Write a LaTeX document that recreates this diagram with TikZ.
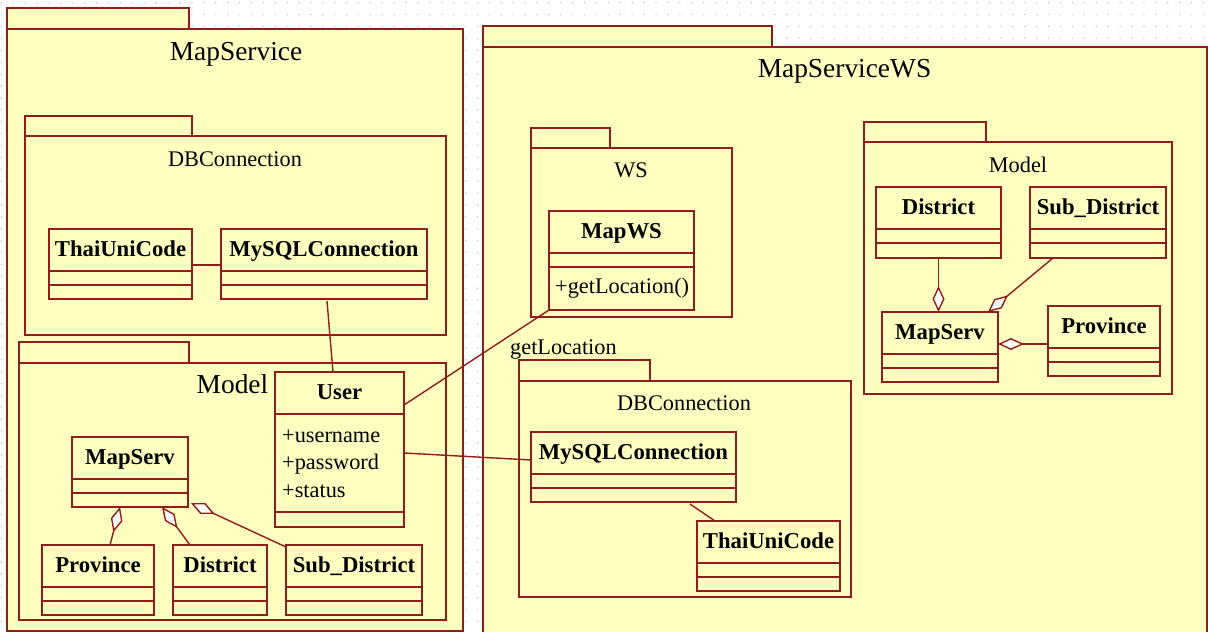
\documentclass[tikz,border=0pt]{standalone}
\usepackage{fontspec}
\setmainfont{Liberation Serif}
\usetikzlibrary{arrows.meta,calc}

\definecolor{umlline}{RGB}{145,28,28}
\definecolor{umlfill}{RGB}{255,255,192}
\definecolor{griddot}{RGB}{200,200,200}

\tikzset{
  pkgpart/.style={rectangle, draw=umlline, fill=umlfill, line width=1.8,
    inner sep=0pt, outer sep=0pt, anchor=north west},
  clsbox/.style={rectangle, draw=umlline, fill=umlfill, line width=1.8,
    inner sep=0pt, outer sep=0pt, anchor=north west},
  clsline/.style={draw=umlline, line width=1.8},
  link/.style={draw=umlline, line width=1.4},
  agg/.style={link, -{Diamond[length=26pt,width=12pt,fill=white]}},
  ttlbig/.style={font=\fontsize{27.4}{30}\selectfont, anchor=base, inner sep=0pt},
  ttl/.style={font=\fontsize{22.3}{26}\selectfont, anchor=base, inner sep=0pt},
  clsname/.style={font=\bfseries\fontsize{22.7}{26}\selectfont, anchor=base, inner sep=0pt},
  attr/.style={font=\fontsize{22.3}{26}\selectfont, anchor=base west, inner sep=0pt},
}

% package: name, left x, tab top, tab right x, body top, body right x, body bottom
\newcommand{\umlpkg}[7]{%
  \node[pkgpart, minimum width={#4-#2}, minimum height={#5-#3}] (#1-tab) at (#2,#3) {};
  \node[pkgpart, minimum width={#6-#2}, minimum height={#7-#5}] (#1) at (#2,#5) {};
}

% class: name, left x, top y, width, height, title, offset of second compartment line
\newcommand{\umlcls}[7]{%
  \node[clsbox, minimum width=#4, minimum height=#5] (#1) at (#2,#3) {};
  \node[clsname] (#1-t) at ($(#1.north)+(0,27.5)$) {#6};
  \draw[clsline] ($(#1.north west)+(0,42)$) -- ($(#1.north east)+(0,42)$);
  \draw[clsline] ($(#1.north west)+(0,#7)$) -- ($(#1.north east)+(0,#7)$);
}

\begin{document}
\begin{tikzpicture}[x=1pt, y=-1pt]
  \useasboundingbox (0,0) rectangle (1208,632);
  \clip (0,0) rectangle (1208,632);
  \fill[white] (0,0) rectangle (1208,632);

  % dotted drawing grid
  \foreach \i in {0,...,101}{
    \foreach \j in {0,...,53}{
      \fill[griddot] ({1.5+11.9*\i},{2.7+11.9*\j}) circle[radius=0.85pt];
    }
  }

  % ---------- MapService ----------
  \umlpkg{mapsvc}{7}{8}{189}{29}{463}{631}
  \node[ttlbig] (mapsvc-t) at (236,60) {MapService};

  \umlpkg{dbL}{25}{116}{192}{136}{446}{335}
  \node[ttl] (dbL-t) at (235,166) {DBConnection};
  \umlcls{thaiL}{49}{229}{143}{70}{ThaiUniCode}{56}
  \umlcls{mysqlL}{221}{229}{206}{70}{MySQLConnection}{56}

  \umlpkg{modelL}{19}{342}{189}{363}{446}{620}
  \node[ttlbig] (modelL-t) at (232.5,393) {Model};
  \umlcls{user}{275}{372}{129}{155}{User}{140}
  \node[attr] (user-a1) at (282,442) {+username};
  \node[attr] (user-a2) at (282,469) {+password};
  \node[attr] (user-a3) at (282,497) {+status};
  \umlcls{mapservL}{72}{437}{116}{70}{MapServ}{56}
  \umlcls{provL}{42}{545}{112}{70}{Province}{56}
  \umlcls{distL}{173}{545}{94}{70}{District}{56}
  \umlcls{subL}{286}{545}{136}{70}{Sub\_District}{56}

  % ---------- MapServiceWS ----------
  \umlpkg{mapsvcws}{483}{26}{772}{47}{1207}{660}
  \node[ttlbig] (mapsvcws-t) at (844.5,77) {MapServiceWS};

  \umlpkg{ws}{531}{128}{610}{148}{732}{317}
  \node[ttl] (ws-t) at (631,177) {WS};
  \umlcls{mapws}{549}{211}{145}{99}{MapWS}{56}
  \node[attr] (mapws-m1) at (555,293) {+getLocation()};

  \umlpkg{modelR}{864}{122}{986}{142}{1172}{394}
  \node[ttl] (modelR-t) at (1018,172) {Model};
  \umlcls{distR}{876}{187}{125}{71}{District}{56}
  \umlcls{subR}{1030}{187}{136}{71}{Sub\_District}{56}
  \umlcls{mapservR}{882}{312}{116}{70}{MapServ}{56}
  \umlcls{provR}{1048}{306}{112}{70}{Province}{56}

  \node[ttl, anchor=base west] (getloc) at (510,354) {getLocation};
  \umlpkg{dbR}{519}{360}{650}{381}{851}{597}
  \node[ttl] (dbR-t) at (684,410) {DBConnection};
  \umlcls{mysqlR}{531}{432}{205}{70}{MySQLConnection}{56}
  \umlcls{thaiR}{697}{521}{143}{70}{ThaiUniCode}{56}

  % ---------- associations ----------
  \draw[link] ($(thaiL.north east)+(0,36)$) -- ($(mysqlL.north west)+(0,36)$);
  \draw[link] ($(mysqlL.south)+(3,2)$) -- ($(user.north)+(-6.5,0)$);
  \draw[link] ($(user.north east)+(0,33)$) -- (mapws.south west);
  \draw[link] ($(user.north east)+(0,81)$) -- ($(mysqlR.north west)+(0,28)$);
  \draw[link] ($(mysqlR.south east)+(-46,2)$) -- ($(thaiR.north west)+(18,0)$);

  % ---------- aggregations ----------
  \draw[agg] ($(provL.north west)+(68,0)$) -- ($(mapservL.south west)+(48,0)$);
  \draw[agg] ($(distL.north west)+(17,0)$) -- ($(mapservL.south west)+(90,0)$);
  \draw[agg] ($(subL.north west)+(0,2)$) -- ($(mapservL.south east)+(3,-4)$);
  \draw[agg] (distR.south) -- (distR.south |- mapservR.north);
  \draw[agg] ($(subR.south west)+(23,0)$) -- ($(mapservR.north east)+(-10,0)$);
  \draw[agg] ($(provR.north west)+(0,38)$) -- ($(mapservR.north east)+(0,32)$);
\end{tikzpicture}
\end{document}
